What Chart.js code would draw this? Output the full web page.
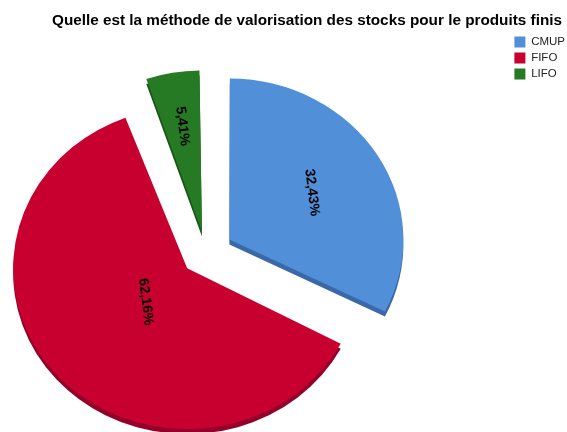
<!DOCTYPE html>
<html>
<head>
<meta charset="utf-8">
<title>Méthode de valorisation des stocks</title>
<script src="https://cdn.jsdelivr.net/npm/chart.js@4.4.1/dist/chart.umd.min.js"></script>
<style>
  html, body { margin: 0; padding: 0; background: #fff; width: 567px; height: 432px; overflow: hidden; }
  /* a bit bigger than the window: the legend runs to the right edge and the pie sits low */
  #wrap { width: 575px; height: 474px; }
</style>
</head>
<body>
<div id="wrap"><canvas id="pieChart"></canvas></div>
<script>
// Values
const categories = ["CMUP", "FIFO", "LIFO"];
const shares = [32.43, 62.16, 5.41];
const chartTitle = "Quelle est la méthode de valorisation des stocks pour le produits finis";

const sliceColors = ["#528fd9", "#c8002f", "#267a23"];
const sideColors = ["#3b68a6", "#95002a", "#1a5618"];

// how far each slice is pulled out of the pie (px)
const pullOut = [27.5, 25, 23.5];

// Chart.js moves an arc by offset / 4 and also grows its radius,
// this plugin takes the growth back, squashes the pie a little and
// paints the darker side below it, then writes the percentages.
const pie3d = {
  id: "pie3d",
  beforeDatasetsDraw(chart, args, opts) {
    const arcs = chart.getDatasetMeta(0).data;
    this._saved = false;
    if (!arcs.length) return;
    const ctx = chart.ctx;

    arcs.forEach((arc) => {
      const circ = arc.endAngle - arc.startAngle;
      const fix = 1 - Math.sin(Math.min(Math.PI, circ));
      arc.outerRadius = opts.radius - (arc.options.offset / 4) * fix;
    });

    const { x, y } = arcs[0];
    ctx.save();
    this._saved = true;
    ctx.translate(x, y);
    ctx.scale(1, opts.squash);
    ctx.translate(-x, -y);

    arcs.forEach((arc, i) => {
      const o = arc.options;
      ctx.save();
      ctx.translate(0, opts.depth / opts.squash);
      arc.options = Object.assign({}, o, { backgroundColor: opts.sideColors[i] });
      arc.draw(ctx);
      arc.options = o;
      ctx.restore();
    });
  },
  afterDatasetsDraw(chart, args, opts) {
    if (!this._saved) return;
    const ctx = chart.ctx;
    ctx.restore();
    this._saved = false;

    const arcs = chart.getDatasetMeta(0).data;
    const values = chart.data.datasets[0].data;
    arcs.forEach((arc, i) => {
      const mid = (arc.startAngle + arc.endAngle) / 2;
      const half = (arc.endAngle - arc.startAngle) / 2;
      // label sits on the centroid of the slice
      const d = arc.options.offset / 4 + (2 * opts.radius * Math.sin(half)) / (3 * half);
      const px = arc.x + Math.cos(mid) * d;
      const py = arc.y + Math.sin(mid) * d * opts.squash;
      ctx.save();
      ctx.translate(px, py);
      ctx.rotate(opts.labelAngle);
      ctx.font = opts.labelFont;
      ctx.fillStyle = "#000";
      ctx.textAlign = "center";
      ctx.textBaseline = "middle";
      ctx.fillText(values[i].toFixed(2).replace(".", ",") + "%", 0, 0);
      ctx.restore();
    });
  },
};

new Chart(document.getElementById("pieChart"), {
  type: "pie",
  data: {
    labels: categories,
    datasets: [
      {
        data: shares,
        backgroundColor: sliceColors,
        borderWidth: 0,
        offset: pullOut.map((p) => p * 4),
        radius: 174,
        clip: 300,
      },
    ],
  },
  options: {
    responsive: true,
    maintainAspectRatio: false,
    animation: false,
    events: [],
    layout: { padding: { left: 39, right: 0, top: 0, bottom: 0 } },
    scales: {
      // empty box between the pie and the legend, pushes the pie to the left
      spacer: {
        type: "linear",
        position: "right",
        grid: { display: false },
        border: { display: false },
        ticks: { display: false },
        afterFit: (axis) => {
          axis.width = 137;
        },
      },
    },
    plugins: {
      title: {
        display: true,
        text: chartTitle,
        color: "#000",
        font: { family: "'Liberation Sans', Arial, sans-serif", size: 15.3, weight: "bold" },
        padding: { top: 11.3, bottom: 2.1 },
      },
      legend: {
        position: "right",
        align: "start",
        fullSize: false,
        labels: {
          boxWidth: 11,
          boxHeight: 11,
          padding: 4.5,
          color: "#222",
          font: { family: "'Liberation Sans', Arial, sans-serif", size: 11.5 },
        },
      },
      tooltip: { enabled: false },
      pie3d: {
        radius: 174,
        squash: 0.925,
        depth: 5,
        sideColors: sideColors,
        labelAngle: (83 * Math.PI) / 180,
        labelFont: "bold 14px 'Liberation Sans', Arial, sans-serif",
      },
    },
  },
  plugins: [pie3d],
});
</script>
</body>
</html>
